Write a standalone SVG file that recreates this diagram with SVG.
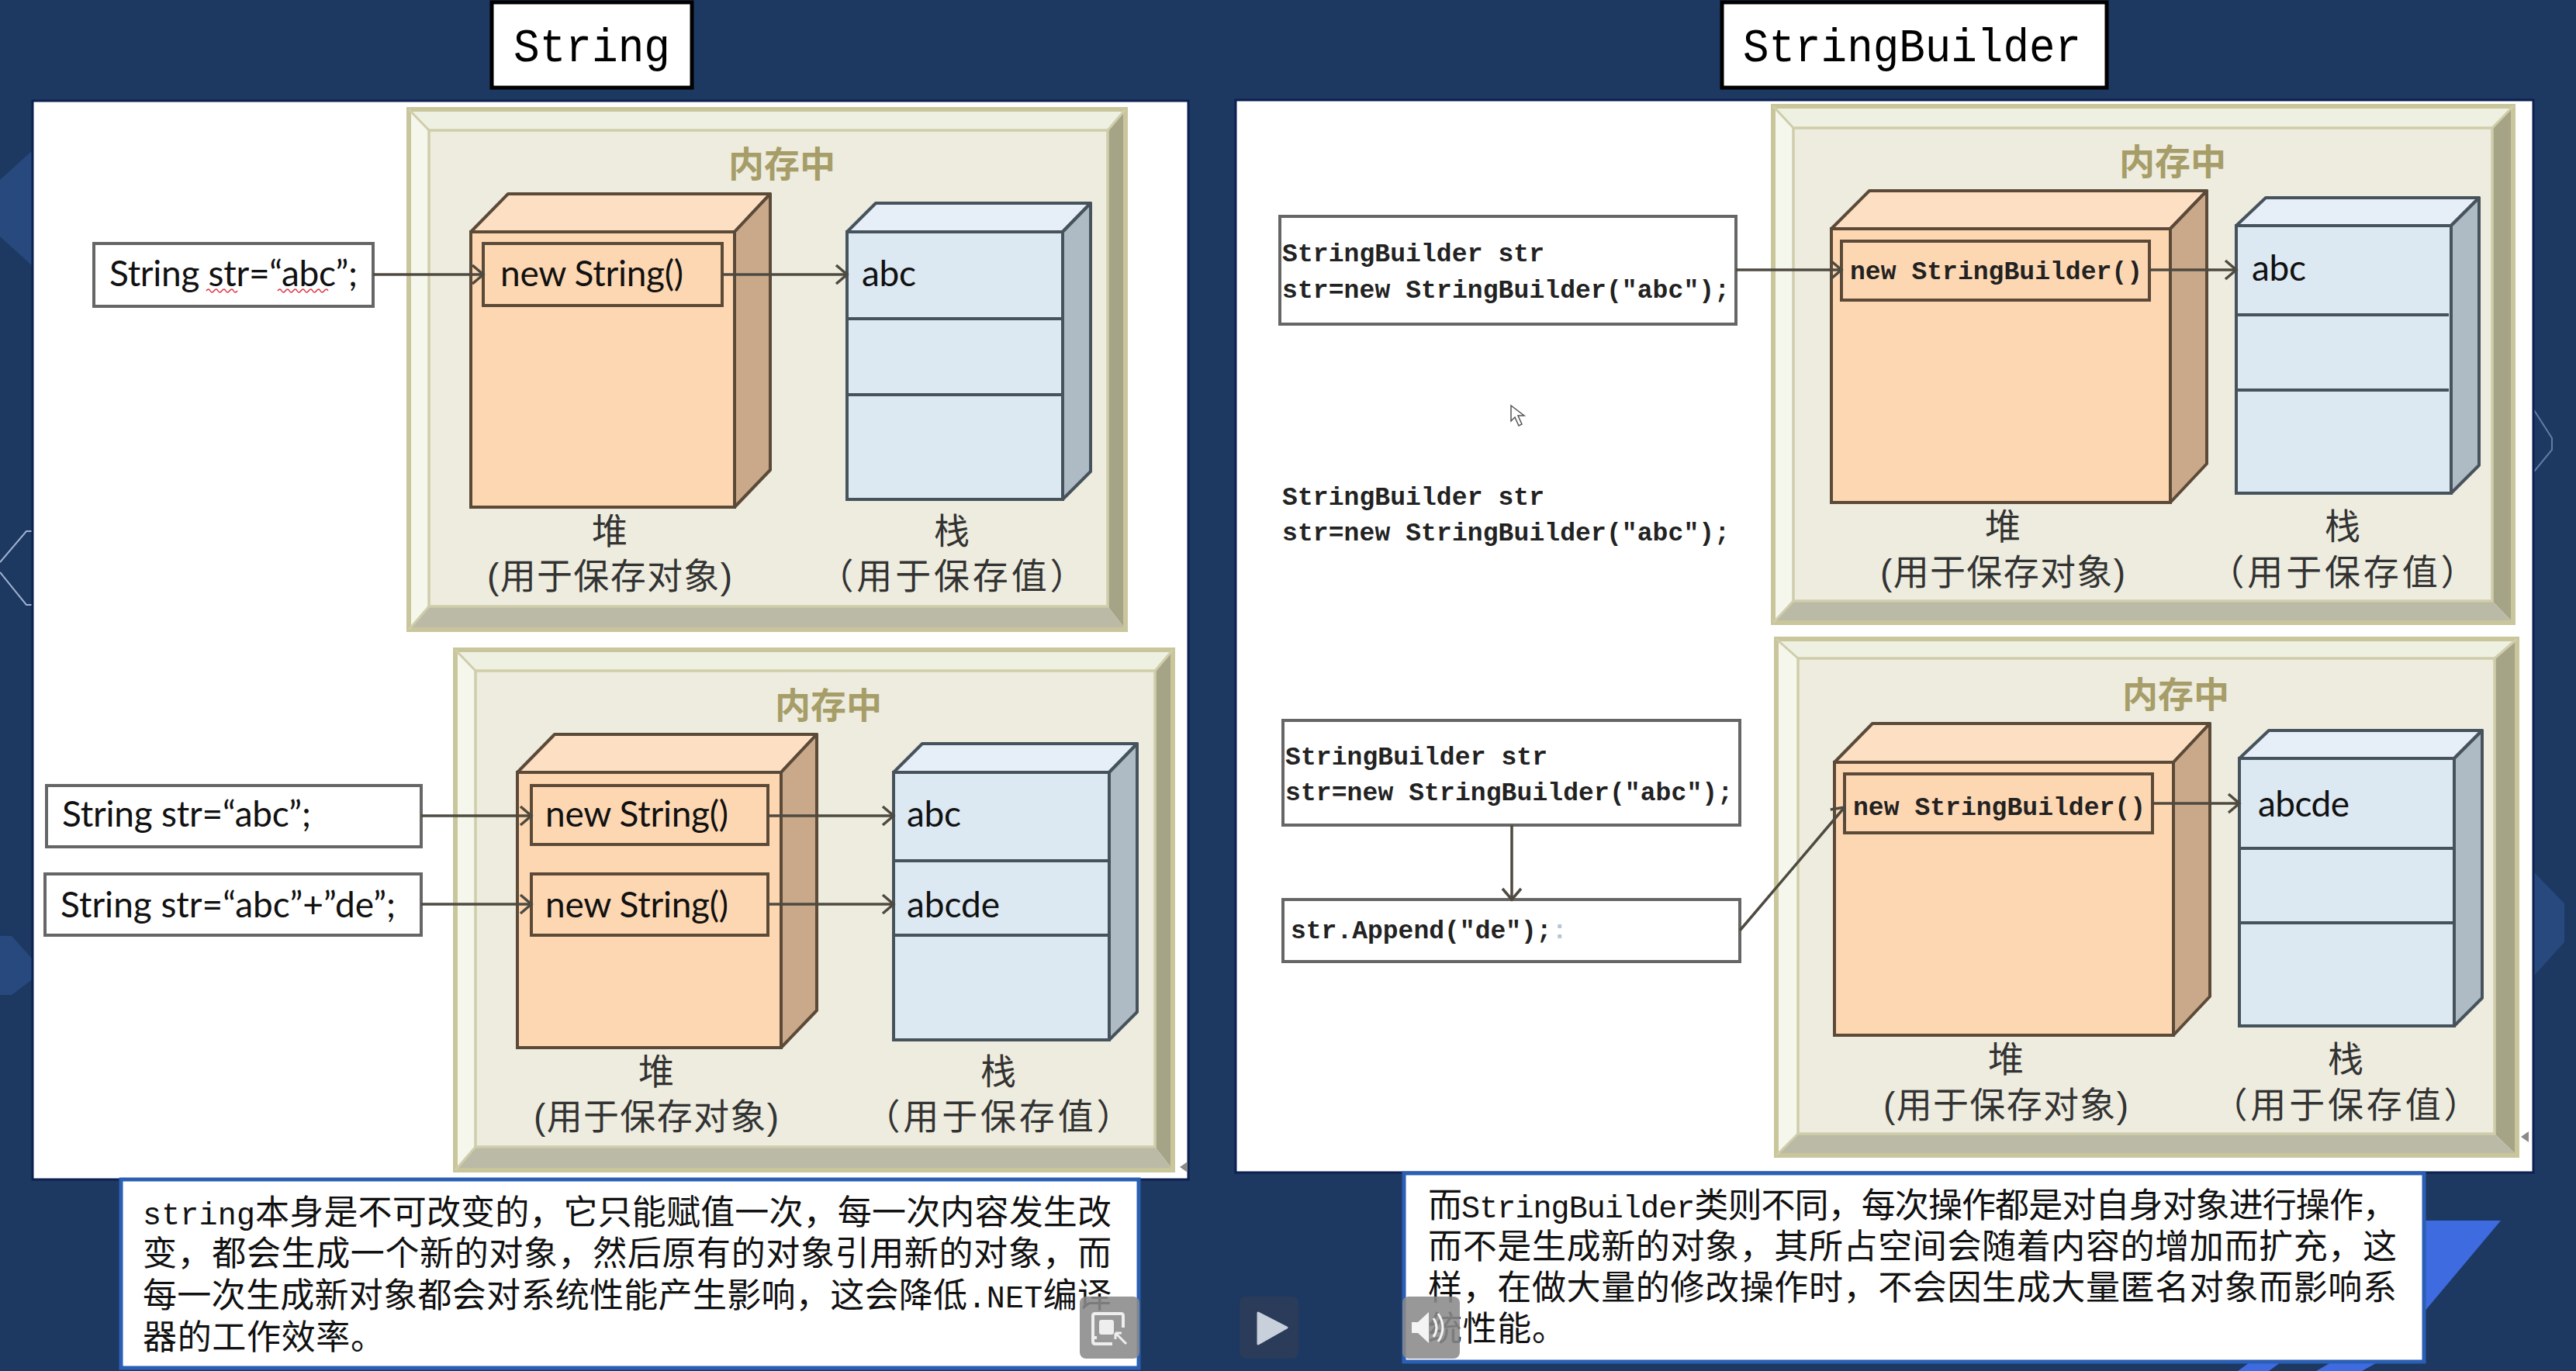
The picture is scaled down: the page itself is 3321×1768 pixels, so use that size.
<svg xmlns="http://www.w3.org/2000/svg" width="3321" height="1768" viewBox="0 0 3321 1768">
<style>
.bg{fill:#1d3962}
.panel{fill:#fff;stroke:#0d2050;stroke-width:3}
.title{fill:#fff;stroke:#000;stroke-width:5}
.tt{font:62px "Liberation Mono",monospace;fill:#000}
.bT{fill:#eef0e2}.bL{fill:#f6f7ec}.bR{fill:#a5a487}.bB{fill:#babaa6}
.fo{fill:none;stroke:#c9c69c;stroke-width:6}
.fi{fill:#edecde;stroke:#cfcdaa;stroke-width:3.5}
.dg{fill:none;stroke:#cfcdaa;stroke-width:3}
.ht{fill:#fde0c4;stroke:#5c4a38;stroke-width:4;stroke-linejoin:round}
.hf{fill:#fdd7b2;stroke:#5c4a38;stroke-width:4}
.hs{fill:#c9a98a;stroke:#5c4a38;stroke-width:4;stroke-linejoin:round}
.st{fill:#e6eef7;stroke:#46525c;stroke-width:4;stroke-linejoin:round}
.sf{fill:#dce8f2;stroke:#46525c;stroke-width:4}
.ss{fill:#aebac4;stroke:#46525c;stroke-width:4;stroke-linejoin:round}
.div{stroke:#46525c;stroke-width:4;fill:none}
.ib{fill:#fdd7b2;stroke:#5c4a38;stroke-width:4}
.cb{fill:#fff;stroke:#666;stroke-width:4}
.cal{font:46px Lato,"Liberation Sans",sans-serif;fill:#111}
.mono{font:bold 33px "Liberation Mono",monospace;fill:#222}
.mem{font:bold 46px "Liberation Sans","Noto Sans CJK SC",sans-serif;fill:#a69d68;text-anchor:middle}
.lab{font:46px "Liberation Sans","Noto Sans CJK SC",sans-serif;fill:#333;text-anchor:middle}
.cap{fill:#fff;stroke:#2a5fb4;stroke-width:5}
.ct{font:44px "Liberation Mono","Noto Sans CJK SC",sans-serif;fill:#111}
.ct tspan.l{font-size:40px}
.line{fill:none;stroke:#4e4a40;stroke-width:3.5;marker-end:url(#arr)}
.btn{fill:#8a8a8a;opacity:.88}
</style>
<defs>
<marker id="arr" markerUnits="userSpaceOnUse" markerWidth="20" markerHeight="28" refX="17" refY="14" orient="auto"><path d="M3 2L17 14L3 26" fill="none" stroke="#4e4a40" stroke-width="3.5"/></marker>
</defs>
<rect class="bg" width="3321" height="1768"/>
<g id="decor">
<path d="M43 193L0 232V305L43 344Z" fill="#27497e"/>
<path d="M43 685H34L0 725M0 738L34 780H43" fill="none" stroke="#9fb3cf" stroke-width="2"/>
<path d="M0 1207H15L43 1238V1262L15 1283H0Z" fill="#27497e"/>
<path d="M3267 529L3290 565V580L3267 608" fill="none" stroke="#5f7da8" stroke-width="2"/>
<path d="M3267 1125L3306 1165V1215L3267 1258Z" fill="#27497e"/>
<path d="M3125 1574H3224L3125 1692Z" fill="#3f6be0"/>
<path d="M2885 1768L2900 1757H2940L2925 1768ZM2986 1768L3005 1757H3065L3045 1768Z" fill="#3f6be0"/>
</g>
<g id="title-string"><rect class="title" x="634" y="3" width="258" height="110"/><text class="tt" x="662" y="79" textLength="202" lengthAdjust="spacingAndGlyphs">String</text></g>
<g id="title-stringbuilder"><rect class="title" x="2220" y="3" width="496" height="110"/><text class="tt" x="2247" y="79" textLength="436" lengthAdjust="spacingAndGlyphs">StringBuilder</text></g>
<rect id="panel-left" class="panel" x="42" y="130" width="1490" height="1391"/>
<rect id="panel-right" class="panel" x="1593" y="129" width="1673" height="1383"/>

<g id="memory-1">
<rect class="bT" x="525" y="139" width="928" height="30"/>
<path class="bL" d="M525 139L553 168V782L525 814Z"/><path class="bR" d="M1453 139L1428 168V782L1453 814Z"/><path class="bB" d="M525 814L553 782H1428L1453 814Z"/>
<rect class="fo" x="527" y="141" width="924" height="671"/><rect class="fi" x="553" y="168" width="875" height="614"/>
<path class="dg" d="M527 141L553 168M1451 141L1428 168M527 812L553 782"/>
<text class="mem" x="1008" y="228">内存中</text>
<path class="ht" d="M607 299L655 250H993L947 299Z"/><path class="hs" d="M947 299L993 250V606L947 654Z"/><rect class="hf" x="607" y="299" width="340" height="355"/>
<path class="st" d="M1092 299L1129 262H1406L1370 299Z"/><path class="ss" d="M1370 299L1406 262V608L1370 644Z"/><rect class="sf" x="1092" y="299" width="278" height="345"/>
<path class="div" d="M1092 411H1370M1092 509H1370"/>
<rect class="ib" x="623" y="314" width="308" height="80"/>
<text class="cal" x="645" y="369" textLength="236">new String()</text>
<text class="cal" x="1111" y="369" textLength="70">abc</text>
<text class="lab" x="786" y="701">堆</text><text class="lab" x="786" y="759" textLength="316">(用于保存对象)</text>
<text class="lab" x="1227" y="701">栈</text><text class="lab" x="1227" y="759" textLength="345">（用于保存值）</text>
</g>
<g id="var-1"><rect class="cb" x="121" y="314" width="360" height="81"/><text class="cal" x="141" y="369" textLength="320">String str=“abc”;</text>
<path d="M266 375q3 -4 5 0t5 0t5 0t5 0t5 0t5 0t5 0t5 0M358 375q3 -4 5 0t5 0t5 0t5 0t5 0t5 0t5 0t5 0t5 0t5 0t5 0t5 0t5 0" fill="none" stroke="#d34" stroke-width="1.5"/></g>

<g id="memory-2">
<rect class="bT" x="585" y="836" width="929" height="30"/>
<path class="bL" d="M585 836L613 865V1479L585 1511Z"/><path class="bR" d="M1514 836L1489 865V1479L1514 1511Z"/><path class="bB" d="M585 1511L613 1479H1489L1514 1511Z"/>
<rect class="fo" x="587" y="838" width="925" height="671"/><rect class="fi" x="613" y="865" width="876" height="614"/>
<path class="dg" d="M587 838L613 865M1512 838L1489 865M587 1509L613 1479"/>
<text class="mem" x="1068" y="926">内存中</text>
<path class="ht" d="M667 996L715 947H1053L1007 996Z"/><path class="hs" d="M1007 996L1053 947V1303L1007 1351Z"/><rect class="hf" x="667" y="996" width="340" height="355"/>
<path class="st" d="M1152 996L1189 959H1466L1430 996Z"/><path class="ss" d="M1430 996L1466 959V1305L1430 1341Z"/><rect class="sf" x="1152" y="996" width="278" height="345"/>
<path class="div" d="M1152 1110H1430M1152 1206H1430"/>
<rect class="ib" x="685" y="1013" width="305" height="76"/><text class="cal" x="703" y="1066" textLength="236">new String()</text>
<rect class="ib" x="685" y="1127" width="305" height="79"/><text class="cal" x="703" y="1183" textLength="236">new String()</text>
<text class="cal" x="1169" y="1066" textLength="70">abc</text>
<text class="cal" x="1169" y="1183" textLength="120">abcde</text>
<text class="lab" x="846" y="1398">堆</text><text class="lab" x="846" y="1456" textLength="316">(用于保存对象)</text>
<text class="lab" x="1287" y="1398">栈</text><text class="lab" x="1287" y="1456" textLength="345">（用于保存值）</text>
</g>
<g id="var-2"><rect class="cb" x="60" y="1013" width="483" height="79"/><text class="cal" x="80" y="1066" textLength="321">String str=“abc”;</text></g>
<g id="var-3"><rect class="cb" x="58" y="1127" width="485" height="79"/><text class="cal" x="78" y="1183" textLength="432">String str=“abc”+”de”;</text></g>

<g id="memory-3">
<rect class="bT" x="2284" y="135" width="958" height="31"/>
<path class="bL" d="M2284 135L2312 165V775L2284 805Z"/><path class="bR" d="M3242 135L3213 165V775L3242 805Z"/><path class="bB" d="M2284 805L2312 775H3213L3242 805Z"/>
<rect class="fo" x="2286" y="137" width="954" height="666"/><rect class="fi" x="2312" y="165" width="901" height="610"/>
<path class="dg" d="M2286 137L2312 165M3240 137L3213 165M2286 803L2312 775"/>
<text class="mem" x="2801" y="225">内存中</text>
<path class="ht" d="M2361 295L2410 246H2845L2798 295Z"/><path class="hs" d="M2798 295L2845 246V598L2798 648Z"/><rect class="hf" x="2361" y="295" width="437" height="353"/>
<path class="st" d="M2883 291L2921 255H3196L3160 291Z"/><path class="ss" d="M3160 291L3196 255V600L3160 636Z"/><rect class="sf" x="2883" y="291" width="277" height="345"/>
<path class="div" d="M2885 406H3157M2885 503H3157"/>
<rect class="ib" x="2374" y="311" width="397" height="76"/>
<text class="mono" x="2385" y="360" textLength="377">new StringBuilder()</text>
<text class="cal" x="2903" y="362" textLength="70">abc</text>
<text class="lab" x="2582" y="695">堆</text><text class="lab" x="2582" y="754" textLength="316">(用于保存对象)</text>
<text class="lab" x="3020" y="695">栈</text><text class="lab" x="3020" y="754" textLength="345">（用于保存值）</text>
</g>
<g id="var-4"><rect class="cb" x="1650" y="279" width="588" height="139"/><text class="mono" x="1653" y="337" textLength="338">StringBuilder str</text><text class="mono" x="1653" y="384" textLength="577">str=new StringBuilder(″abc″);</text></g>
<g id="code-plain"><text class="mono" x="1653" y="651" textLength="338">StringBuilder str</text><text class="mono" x="1653" y="697" textLength="577">str=new StringBuilder(″abc″);</text></g>
<g id="cursor"><path d="M1948 523V543L1953 538L1958 549L1962 547L1957 536H1965Z" fill="#fff" stroke="#555" stroke-width="1.5"/></g>

<g id="memory-4">
<rect class="bT" x="2288" y="822" width="959" height="30"/>
<path class="bL" d="M2288 822L2318 849V1462L2288 1492Z"/><path class="bR" d="M3247 822L3216 849V1462L3247 1492Z"/><path class="bB" d="M2288 1492L2318 1462H3216L3247 1492Z"/>
<rect class="fo" x="2290" y="824" width="955" height="666"/><rect class="fi" x="2318" y="849" width="898" height="613"/>
<path class="dg" d="M2290 824L2318 849M3245 824L3216 849M2290 1490L2318 1462"/>
<text class="mem" x="2805" y="912">内存中</text>
<path class="ht" d="M2365 983L2414 933H2849L2802 983Z"/><path class="hs" d="M2802 983L2849 933V1285L2802 1335Z"/><rect class="hf" x="2365" y="983" width="437" height="352"/>
<path class="st" d="M2887 978L2925 942H3200L3164 978Z"/><path class="ss" d="M3164 978L3200 942V1287L3164 1323Z"/><rect class="sf" x="2887" y="978" width="277" height="345"/>
<path class="div" d="M2887 1094H3164M2887 1190H3164"/>
<rect class="ib" x="2378" y="998" width="397" height="76"/>
<text class="mono" x="2389" y="1051" textLength="377">new StringBuilder()</text>
<text class="cal" x="2911" y="1053" textLength="118">abcde</text>
<text class="lab" x="2586" y="1382">堆</text><text class="lab" x="2586" y="1441" textLength="316">(用于保存对象)</text>
<text class="lab" x="3024" y="1382">栈</text><text class="lab" x="3024" y="1441" textLength="345">（用于保存值）</text>
</g>
<g id="var-5"><rect class="cb" x="1654" y="929" width="589" height="135"/><text class="mono" x="1657" y="986" textLength="338">StringBuilder str</text><text class="mono" x="1657" y="1032" textLength="577">str=new StringBuilder(″abc″);</text></g>
<g id="var-6"><rect class="cb" x="1654" y="1160" width="589" height="80"/><text class="mono" x="1664" y="1210">str.Append(″de″);<tspan fill="#b8c4d0">:</tspan></text></g>

<g id="connectors">
<path class="line" d="M481 354H623"/><path class="line" d="M931 354H1092"/>
<path class="line" d="M543 1052H685"/><path class="line" d="M990 1052H1152"/>
<path class="line" d="M543 1166H685"/><path class="line" d="M990 1166H1152"/>
<path class="line" d="M2238 348H2374"/><path class="line" d="M2771 348H2883"/>
<path class="line" d="M1949 1064V1160"/><path class="line" d="M2243 1200L2378 1041"/><path class="line" d="M2775 1036H2887"/>
</g>

<g id="caption-left"><rect class="cap" x="156" y="1521" width="1312" height="243"/>
<text class="ct" x="184" y="1579" textLength="1249"><tspan class="l">string</tspan>本身是不可改变的，它只能赋值一次，每一次内容发生改</text>
<text class="ct" x="184" y="1632" textLength="1249">变，都会生成一个新的对象，然后原有的对象引用新的对象，而</text>
<text class="ct" x="184" y="1686" textLength="1249">每一次生成新对象都会对系统性能产生影响，这会降低<tspan class="l">.NET</tspan>编译</text>
<text class="ct" x="184" y="1740" textLength="312">器的工作效率。</text></g>
<g id="caption-right"><rect class="cap" x="1810" y="1513" width="1315" height="243"/>
<text class="ct" x="1841" y="1570" textLength="1249">而<tspan class="l">StringBuilder</tspan>类则不同，每次操作都是对自身对象进行操作，</text>
<text class="ct" x="1841" y="1623" textLength="1249">而不是生成新的对象，其所占空间会随着内容的增加而扩充，这</text>
<text class="ct" x="1841" y="1676" textLength="1249">样，在做大量的修改操作时，不会因生成大量匿名对象而影响系</text>
<text class="ct" x="1841" y="1729" textLength="178">统性能。</text></g>

<g id="player">
<path d="M1521 1505L1531 1498V1512Z" fill="#8a8a8a"/><path d="M3250 1466L3260 1459V1473Z" fill="#8a8a8a"/>
<rect class="btn" x="1392" y="1672" width="77" height="80" rx="8"/>
<path d="M1414 1725H1409V1697Q1409 1694 1412 1694H1445Q1448 1694 1448 1697V1712" fill="none" stroke="#eee" stroke-width="4"/><path d="M1409 1725V1730Q1409 1733 1412 1733H1434" fill="none" stroke="#eee" stroke-width="4"/>
<rect x="1417" y="1702" width="19" height="19" rx="3" fill="#eee"/><path d="M1438 1719L1452 1733M1438 1719V1727M1438 1719H1446" fill="none" stroke="#eee" stroke-width="3"/>
<rect x="1598" y="1672" width="76" height="80" rx="8" fill="#2a3c5a"/><path d="M1622 1693L1659 1712L1622 1733Z" fill="#c8d0dc" stroke="#c8d0dc" stroke-width="3" stroke-linejoin="round"/>
<rect class="btn" x="1808" y="1672" width="74" height="80" rx="8"/>
<path d="M1820 1705H1828L1842 1692V1732L1828 1719H1820Z" fill="#f4f4f4"/><path d="M1848 1700Q1856 1712 1848 1724M1854 1694Q1866 1712 1854 1730" fill="none" stroke="#f4f4f4" stroke-width="3"/>
</g>
</svg>
